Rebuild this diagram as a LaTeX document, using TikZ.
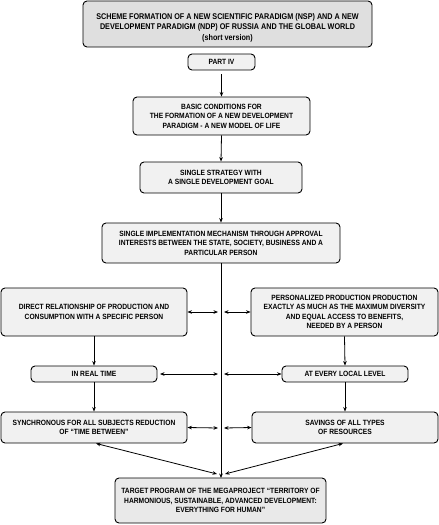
\documentclass[tikz,border=0pt]{standalone}
\usepackage{fontspec}
\setmainfont{Liberation Sans}
\newfontfamily\boxfont[FakeStretch=0.88]{Liberation Sans}
\newfontfamily\topfont[FakeStretch=0.87]{Liberation Sans}
\usetikzlibrary{arrows.meta}
\begin{document}
\begin{tikzpicture}[x=1pt,y=-1pt,
  box/.style={draw=black, line width=0.9pt, rounded corners=4pt, fill=gray!11,
    inner sep=1pt, align=center,
    font=\boxfont\fontsize{7.6}{9.5}\selectfont\bfseries},
  darkbox/.style={box, fill=gray!25},
  midbox/.style={box, fill=gray!17},
  conn/.style={line width=0.8pt, -{Stealth[length=4.5pt,width=3.6pt]}},
  dconn/.style={line width=0.8pt, {Stealth[length=4.5pt,width=3.6pt]}-{Stealth[length=4.5pt,width=3.6pt]}}]
\useasboundingbox (0,0) rectangle (439,525);
\node[darkbox, minimum width=289pt, minimum height=46pt] (top) at (227.5,24) {};
\node[align=center, inner sep=0pt, font=\topfont\fontsize{8.3}{10.5}\selectfont\bfseries] (toptext) at (227.5,27.5)
  {SCHEME FORMATION OF A NEW SCIENTIFIC PARADIGM (NSP) AND A NEW\\DEVELOPMENT PARADIGM (NDP) OF RUSSIA AND THE GLOBAL WORLD\\(short version)};
\node[box, minimum width=67pt, minimum height=16pt] (part) at (221.5,62) {PART IV};
\node[box, minimum width=177pt, minimum height=38pt] (basic) at (221.5,116)
  {BASIC CONDITIONS FOR\\THE FORMATION OF A NEW DEVELOPMENT\\PARADIGM - A NEW MODEL OF LIFE};
\node[box, minimum width=162pt, minimum height=31pt] (strat) at (221,177.5)
  {SINGLE STRATEGY WITH\\A SINGLE DEVELOPMENT GOAL};
\node[box, minimum width=238pt, minimum height=40pt] (impl) at (221,243)
  {SINGLE IMPLEMENTATION MECHANISM THROUGH APPROVAL\\INTERESTS BETWEEN THE STATE, SOCIETY, BUSINESS AND A\\PARTICULAR PERSON};
\node[box, minimum width=186pt, minimum height=48pt] (direct) at (94,312)
  {DIRECT RELATIONSHIP OF PRODUCTION AND\\CONSUMPTION WITH A SPECIFIC PERSON};
\node[box, minimum width=187pt, minimum height=48pt] (pers) at (344.5,312)
  {PERSONALIZED PRODUCTION PRODUCTION\\EXACTLY AS MUCH AS THE MAXIMUM DIVERSITY\\AND EQUAL ACCESS TO BENEFITS,\\NEEDED BY A PERSON};
\node[box, minimum width=126pt, minimum height=16pt] (real) at (94,374) {IN REAL TIME};
\node[box, minimum width=126pt, minimum height=16pt] (local) at (345,374) {AT EVERY LOCAL LEVEL};
\node[box, minimum width=186pt, minimum height=31pt] (sync) at (94,427.5)
  {SYNCHRONOUS FOR ALL SUBJECTS REDUCTION\\OF “TIME BETWEEN”};
\node[box, minimum width=186pt, minimum height=31pt] (sav) at (345,427.5)
  {SAVINGS OF ALL TYPES\\OF RESOURCES};
\node[midbox, minimum width=211pt, minimum height=45pt] (target) at (220.5,500.5)
  {TARGET PROGRAM OF THE MEGAPROJECT “TERRITORY OF\\HARMONIOUS, SUSTAINABLE, ADVANCED DEVELOPMENT:\\EVERYTHING FOR HUMAN”};
% spine coordinates
\coordinate (s1l) at (218,312); \coordinate (s1r) at (224,312);
\coordinate (s2l) at (218,374); \coordinate (s2r) at (224,374);
\coordinate (s3l) at (218,428); \coordinate (s3r) at (224,428);
\coordinate (rl) at (160,374);
\coordinate (tl) at (217,474); \coordinate (tr) at (225,474);
\coordinate (tc) at (221,263); \coordinate (tb) at (221,478);
% arrows
\draw[conn] ([yshift=-4pt]part.south) -- (basic.north);
\draw[conn] (basic.south) -- (strat.north);
\draw[conn] (strat.south) -- (impl.north);
\draw[conn] (tc) -- (tb);
\draw[dconn] (direct.east) -- (s1l);
\draw[dconn] (s1r) -- (pers.west);
\draw[dconn] (rl) -- (s2l);
\draw[dconn] (s2r) -- (local.west);
\draw[dconn] (sync.east) -- (s3l);
\draw[dconn] (s3r) -- (sav.west);
\draw[conn] (direct.south) -- (real.north);
\draw[conn] (real.south) -- (sync.north);
\draw[conn] (pers.south) -- (local.north);
\draw[conn] (local.south) -- (sav.north);
\draw[dconn] ([xshift=2pt]sync.south) -- (tl);
\draw[dconn] ([xshift=-2pt]sav.south) -- (tr);
\end{tikzpicture}
\end{document}
